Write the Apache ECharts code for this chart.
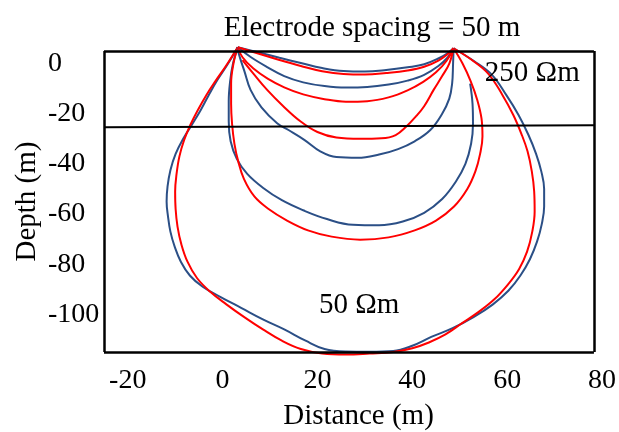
<!DOCTYPE html>
<html>
<head>
<meta charset="utf-8">
<script src="https://cdn.jsdelivr.net/npm/echarts@6/dist/echarts.min.js"></script>
<style>
  html, body { margin: 0; padding: 0; background: #fff; }
  #chart { width: 619px; height: 432px; }
</style>
</head>
<body>
<div id="chart"></div>
<script>
// Current-density contours for a 50 m electrode spacing over a two-layer earth
// (250 Ωm on top of 50 Ωm). Each pair: blue = one model, red = the other.
const titleText = 'Electrode spacing = 50 m';
const xTicks = [-20, 0, 20, 40, 60, 80];
const yTicks = [0, -20, -40, -60, -80, -100];
const xRange = [-25, 80];
const yRange = [-115, 5];
const frameRight = 78.3;
const layerBoundary = [[-25, -25.4], [78.3, -24.6]];

const blueA = [[3.2,6.5],[7.5,4.5],[12,2.3],[16.5,0.2],[21,-1.8],[25.5,-3],[30,-3.2],[34.5,-2.6],[39,-1.5],[42.5,-0.3],[45.5,2],[47.5,4.2],[48.7,6.1]];
const redA  = [[3.2,6.5],[7.5,4],[12,1.4],[16.5,-1],[21,-3.1],[25.5,-4.2],[30,-4.4],[34.5,-3.8],[39,-2.8],[42.5,-1.3],[45.5,1.2],[47.5,3.8],[48.7,6.1]];
const blueB = [[3.2,6.5],[6,2.5],[9.5,-1.5],[13,-5],[17,-7.5],[21.5,-9],[26,-9.6],[30.5,-9.4],[35,-8.4],[39,-6.8],[42.5,-4.5],[45.5,-1],[47.5,2.5],[48.7,6.1]];
const redB  = [[3.2,6.5],[4.2,2.5],[6.5,-2],[9.5,-6],[13,-9.5],[17,-12.3],[21.5,-14.2],[26,-15.2],[30.5,-15],[35,-13.5],[39,-10.7],[42.3,-7.3],[45,-3.5],[47.2,1],[48.7,6.1]];
const blueC = [[3.2,6.5],[3.4,4],[4.6,-3],[5.9,-10.5],[8.2,-17.5],[11.5,-23.8],[13.9,-26.5],[17.3,-30.5],[20.6,-35],[24,-37.3],[28.5,-37.6],[33,-36.3],[37,-34.1],[40.5,-31],[43.8,-26.5],[46.3,-20],[47.8,-14],[48.4,-8],[48.6,0],[48.7,6.1]];
const redC  = [[4.2,1.4],[6.5,-4],[9.4,-10.5],[12.8,-17],[16.4,-23],[20,-27.3],[24,-29.5],[29,-30],[33.5,-29.8],[36.5,-28.5],[38.8,-25],[40.8,-21],[42.5,-17],[44.5,-10.5],[46.3,-5],[47.8,0],[48.7,6.1]];
const blueD = [[3.2,6.5],[2.2,0],[1.6,-7],[1.3,-15],[1.3,-23],[1.7,-31],[3,-38],[5.2,-44],[8.5,-49.5],[12.5,-54.5],[17,-58.5],[22,-62],[27.5,-64.3],[33,-64.5],[38,-63],[42.5,-59.5],[46.3,-54],[49.2,-47],[51.2,-40],[52.4,-32],[52.8,-24],[52.7,-16],[52.2,-8]];
const redD  = [[3.2,6.5],[2.3,0],[1.8,-8],[1.8,-16],[2,-24],[2.5,-32],[3.3,-39],[4.5,-46],[6.7,-53],[9.7,-58],[13.5,-62.5],[18,-66.5],[23,-69],[29,-70.2],[35,-69.3],[40.5,-66.5],[45,-62.6],[48.8,-57],[51.6,-50],[53.3,-43],[54.3,-36],[54.8,-29],[54.6,-22],[53.7,-14.5],[52.3,-7],[50.6,0],[48.7,6.1]];
const blueE = [[3.2,6.5],[1,-0.5],[-1.1,-6.6],[-2.9,-12.5],[-4.6,-18.5],[-6.5,-24.5],[-8.3,-30],[-9.9,-36],[-11,-42.5],[-11.6,-49],[-11.8,-55],[-11.5,-61],[-11,-67],[-10.1,-73],[-8.8,-79],[-6.9,-84.5],[-4.2,-89],[-0.5,-93],[4,-97.5],[8.5,-102],[13,-106],[17.5,-110.5],[21.5,-113.8],[26,-114.8],[31,-114.9],[36,-114.6],[40,-112.5],[44,-109],[48.5,-105.5],[53,-101],[57,-96],[60.3,-90.5],[62.8,-84.5],[64.8,-78],[66.3,-71],[67.3,-64],[67.8,-57],[67.8,-50],[67.2,-43],[66.1,-36],[64.5,-28.5],[62.4,-20.5],[59.8,-12.5],[56.8,-4.5],[53,1],[48.7,6.1]];
const redE  = [[3.2,6.5],[0.7,-1],[-1.5,-7],[-3.4,-12.5],[-5.2,-18.5],[-6.8,-24.5],[-8.1,-30.5],[-9.1,-37],[-9.7,-44],[-10,-51],[-9.9,-58],[-9.5,-65],[-8.7,-72],[-7.4,-79],[-5.4,-85.5],[-2.6,-91],[0.8,-96],[4.5,-101],[8.5,-106],[12.5,-110.5],[16.5,-113.8],[21,-115.6],[26,-116],[31,-115.6],[36,-115],[40,-113.5],[43.5,-111.2],[47,-108],[50.5,-103.5],[54,-99],[57.3,-94],[60.2,-88],[62.5,-82],[64.2,-75],[65.3,-67],[65.8,-59],[65.7,-51],[65.2,-43],[64.3,-35],[63,-28],[61.3,-20.5],[59,-12.5],[56,-4],[52.5,1.5],[48.7,6.1]];

const upperLabel = { text: '250 Ωm', at: [65.3, -3.8] };
const lowerLabel = { text: '50 Ωm', at: [28.8, -96.3] };

const BLUE = '#2b4f86';
const RED = '#ff0000';
const FONT = 'Liberation Serif';

const chart = echarts.init(document.getElementById('chart'), null, { renderer: 'canvas' });

function contour(name, data, color) {
  return {
    name, type: 'line', data, smooth: 0.4, symbol: 'none', clip: false,
    lineStyle: { color, width: 2 }, z: 3, silent: true
  };
}

const frameStyle = { color: '#000', width: 2.5, type: 'solid' };

const series = [
  contour('blueE', blueE, BLUE), contour('redE', redE, RED),
  contour('blueD', blueD, BLUE), contour('redD', redD, RED),
  contour('blueC', blueC, BLUE), contour('redC', redC, RED),
  contour('blueB', blueB, BLUE), contour('redB', redB, RED),
  contour('blueA', blueA, BLUE), contour('redA', redA, RED),
  {
    // plot frame and the layer boundary
    type: 'line', data: [], silent: true,
    markLine: {
      symbol: 'none', silent: true, label: { show: false },
      lineStyle: frameStyle,
      data: [
        [{ coord: [xRange[0], yRange[1]] }, { coord: [frameRight, yRange[1]] }],
        [{ coord: [xRange[0], yRange[0]] }, { coord: [frameRight, yRange[0]] }],
        [{ coord: [xRange[0], yRange[0]] }, { coord: [xRange[0], yRange[1]] }],
        [{ coord: [frameRight, yRange[0]] }, { coord: [frameRight, yRange[1]] }],
        [{ coord: layerBoundary[0], lineStyle: { width: 2 } }, { coord: layerBoundary[1] }]
      ]
    },
    markPoint: {
      symbol: 'rect', symbolSize: 0, silent: true,
      label: { show: true, color: '#000', fontFamily: FONT, fontSize: 29, formatter: p => p.name },
      data: [
        { name: upperLabel.text, coord: upperLabel.at },
        { name: lowerLabel.text, coord: lowerLabel.at }
      ]
    }
  }
];

chart.setOption({
  animation: false,
  backgroundColor: '#fff',
  title: {
    text: titleText, left: 367, top: 9, textAlign: 'center',
    textStyle: { fontFamily: FONT, fontSize: 29, fontWeight: 'normal', color: '#000' }
  },
  grid: { left: 104, top: 51, right: 17, bottom: 80, outerBoundsMode: 'none', containLabel: false },
  xAxis: {
    type: 'value', min: xRange[0], max: xRange[1],
    axisLine: { show: false }, axisTick: { show: false }, splitLine: { show: false },
    axisLabel: {
      customValues: xTicks, margin: 15, color: '#000', fontFamily: FONT, fontSize: 28
    },
    name: 'Distance (m)', nameLocation: 'middle', nameGap: 50, nameMoveOverlap: false,
    nameTextStyle: { fontFamily: FONT, fontSize: 29, color: '#000', padding: [0, 0, 0, 11] }
  },
  yAxis: {
    type: 'value', min: yRange[0], max: yRange[1],
    axisLine: { show: false }, axisTick: { show: false }, splitLine: { show: false },
    axisLabel: {
      customValues: yTicks, margin: 56, align: 'left', color: '#000', fontFamily: FONT, fontSize: 28
    },
    name: 'Depth (m)', nameLocation: 'middle', nameGap: 62, nameRotate: 90, nameMoveOverlap: false,
    nameTextStyle: { fontFamily: FONT, fontSize: 29, color: '#000' }
  },
  series
});
</script>
</body>
</html>
